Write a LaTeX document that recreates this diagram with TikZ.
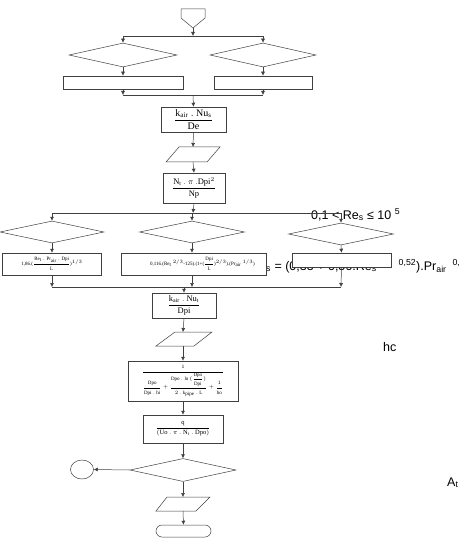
\documentclass[tikz,border=0pt]{standalone}
\usepackage{fontspec}
\usepackage{amsmath}
\setmainfont{Liberation Serif}
\newfontfamily\arialf{Liberation Sans}
\usetikzlibrary{shapes.geometric,arrows.meta}
\newcommand{\tx}[1]{\text{#1}}
\tikzset{
 ln/.style={draw=black!75, line width=0.5pt},
 arr/.style={ln, -{Latex[length=4pt,width=4pt]}},
 box/.style={ln, fill=white, rectangle, inner sep=0pt},
 dia/.style={ln, fill=white, diamond, inner sep=0pt},
 fsL/.style={font=\fontsize{10}{11}\selectfont},
 fsM/.style={font=\fontsize{8.5}{9}\selectfont},
 fsA/.style={font=\fontsize{6.5}{7}\selectfont},
 fsB/.style={font=\fontsize{5}{6}\selectfont},
 stray/.style={font=\arialf\fontsize{12.5}{13}\selectfont, inner sep=0pt, text=black},
}
\begin{document}
\begin{tikzpicture}[x=1pt,y=-1pt]
\useasboundingbox (0,0) rectangle (459,545);
\clip (0,0) rectangle (459,545);
\fill[white] (0,0) rectangle (459,545);

% stray texts (behind)
\node[stray, anchor=base west] (s1) at (311,219) {0,1 < Re\textsubscript{s} ≤ 10 \textsuperscript{5}};
\node[stray, anchor=base west] (s2) at (266,270) {\textsubscript{s} = (0,35 + 0,56.Re\textsubscript{s}\hspace{22pt}\textsuperscript{0,52}).Pr\textsubscript{air}\hspace{6pt}\textsuperscript{0,3}};
\node[stray, anchor=base west] (s3) at (383,351) {hc};
\node[stray, anchor=base west] (s4) at (447,486) {A\textsubscript{t}};

% start connector
\draw[ln, fill=white] (181,9) -- (205,9) -- (205,18) -- (193,28) -- (181,18) -- cycle;
\coordinate (start) at (193,28);
\coordinate (j1) at (193,36);
\coordinate (j1l) at (123,36);
\coordinate (j1r) at (263,36);

\node[dia, minimum width=108pt, minimum height=24pt] (d1) at (123,55) {};
\node[dia, minimum width=106pt, minimum height=24pt] (d2) at (263,55) {};
\node[box, minimum width=120pt, minimum height=13pt] (r1) at (123,82.5) {};
\node[box, minimum width=98pt, minimum height=13pt] (r2) at (263,82.5) {};
\coordinate (j2l) at (123,95);
\coordinate (j2r) at (263,95);
\coordinate (j2) at (193,95);

\node[box, fsL, minimum width=65pt, minimum height=25pt] (b1) at (193.5,119.5)
  {$\dfrac{\tx{k}_{\tx{air}}\ .\ \tx{Nu}_{\tx{s}}}{\tx{De}}$};

\draw[ln, fill=white] (166,162) -- (179,147) -- (220,147) -- (207,162) -- cycle;
\coordinate (p1t) at (193,147);
\coordinate (p1b) at (193,162);

\node[box, fsM, minimum width=62pt, minimum height=30pt] (b2) at (194,188)
  {$\dfrac{\tx{N}_{\tx{t}}\ .\ \pi\ .\tx{Dpi}^{2}}{\tx{Np}}$};

\coordinate (j3) at (193,213);
\coordinate (j3l) at (52,213);
\coordinate (j3m) at (192,213);
\coordinate (j3r) at (341,213);

\node[dia, minimum width=104pt, minimum height=22pt] (d3) at (52,232) {};
\node[dia, minimum width=105pt, minimum height=22pt] (d4) at (192,232) {};
\node[dia, minimum width=105pt, minimum height=22pt] (d5) at (341,234) {};

\node[box, fsB, minimum width=99pt, minimum height=22pt] (r3) at (52,264)
  {1,86.($\dfrac{\tx{Re}_{\tx{t}}\ .\ \tx{Pr}_{\tx{air}}\ .\ \tx{Dpi}}{\tx{L}}$)$^{1/3}$};
\node[box, fsB, minimum width=145pt, minimum height=22pt] (r4) at (193.5,264)
  {\hspace{18pt}0,116.(Re$_{\tx{t}}$ $^{2/3}$-125).(1+($\dfrac{\tx{Dpi}}{\tx{L}}$)$^{2/3}$).(Pr$_{\tx{air}}$ $^{1/3}$)};
\node[box, minimum width=99pt, minimum height=14pt] (r5) at (341.5,260) {};

\coordinate (j4l) at (52,287);
\coordinate (j4m) at (192,287);
\coordinate (j4r) at (341,287);
\coordinate (j4) at (184,287);

\node[box, fsM, minimum width=64pt, minimum height=25pt] (b3) at (184,305.5)
  {$\dfrac{\tx{k}_{\tx{air}}\ .\ \tx{Nu}_{\tx{t}}}{\tx{Dpi}}$};

\draw[ln, fill=white] (156,346) -- (175,332) -- (212,332) -- (194,346) -- cycle;
\coordinate (p2t) at (183,332);
\coordinate (p2b) at (183,346);

\node[box, fsB, minimum width=110pt, minimum height=40pt] (b4) at (183,381)
  {$\dfrac{1}{\dfrac{\tx{Dpo}}{\tx{Dpi}\ .\ \tx{hi}}+\dfrac{\tx{Dpo}\ .\ \tx{ln}\,(\dfrac{\tx{Dpo}}{\tx{Dpi}})}{2\ .\ \tx{k}_{\tx{pipe}}\ .\ \tx{L}}+\dfrac{1}{\tx{ho}}}$};

\node[box, fsA, minimum width=80pt, minimum height=28pt] (b5) at (183,429)
  {$\dfrac{\tx{q}}{(\tx{Uo}\ .\ \pi\ .\ \tx{N}_{\tx{t}}\ .\ \tx{Dpo})}$};

\node[dia, minimum width=106pt, minimum height=23pt] (d6) at (183,470) {};
\node[ln, fill=white, ellipse, inner sep=0pt, minimum width=23pt, minimum height=19pt] (c1) at (82,469.5) {};

\draw[ln, fill=white] (156,511) -- (167,497) -- (210,497) -- (196,511) -- cycle;
\coordinate (p3t) at (183,497);
\coordinate (p3b) at (183,511);

\node[box, rounded corners=6pt, minimum width=55pt, minimum height=12pt] (t1) at (183.5,531) {};

% connectors
\draw[arr] (start) -- (j1);
\draw[ln] (j1l) -- (j1r);
\draw[arr] (j1l) -- (d1.north);
\draw[arr] (j1r) -- (d2.north);
\draw[arr] (d1.south) -- (r1.north);
\draw[arr] (d2.south) -- (r2.north);
\draw[arr] (r1.south) -- (j2l);
\draw[arr] (r2.south) -- (j2r);
\draw[ln] (j2l) -- (j2r);
\draw[arr] (j2) -- (b1.north);
\draw[arr] (b1.south) -- (p1t);
\draw[arr] (p1b) -- (b2.north);
\draw[arr] (b2.south) -- (j3);
\draw[ln] (j3l) -- (j3r);
\draw[arr] (j3l) -- (d3.north);
\draw[arr] (j3m) -- (d4.north);
\draw[arr] (j3r) -- (d5.north);
\draw[arr] (d3.south) -- (r3.north);
\draw[arr] (d4.south) -- (d4.south |- r4.north);
\draw[arr] (d5.south) -- (r5.north);
\draw[arr] (r3.south) -- (j4l);
\draw[arr] (d4.south |- r4.south) -- (j4m);
\draw[arr] (r5.south) -- (j4r);
\draw[ln] (j4l) -- (j4r);
\draw[arr] (j4) -- (b3.north);
\draw[arr] (b3.south) -- (p2t);
\draw[arr] (p2b) -- (b4.north);
\draw[arr] (b4.south) -- (b5.north);
\draw[arr] (b5.south) -- (d6.north);
\draw[arr] (d6.west) -- (c1.east);
\draw[arr] (d6.south) -- (p3t);
\draw[arr] (p3b) -- (t1.north);
\end{tikzpicture}
\end{document}
